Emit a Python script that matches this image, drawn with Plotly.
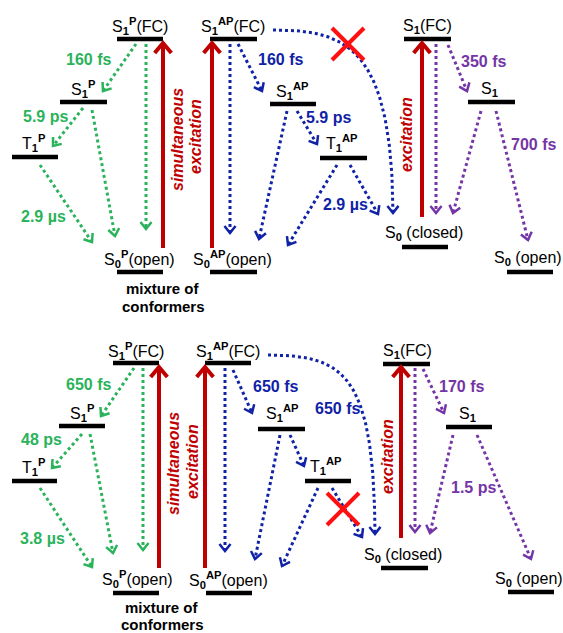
import numpy as np
import plotly.graph_objects as go

# ---------------- data ----------------
top_levels = ["S<sub><b>1</b></sub><sup><b>P</b></sup>(FC)", "S<sub><b>1</b></sub><sup><b>P</b></sup>",
              "T<sub><b>1</b></sub><sup><b>P</b></sup>", "S<sub><b>0</b></sub><sup><b>P</b></sup>(open)",
              "S<sub><b>1</b></sub><sup><b>AP</b></sup>(FC)", "S<sub><b>1</b></sub><sup><b>AP</b></sup>",
              "T<sub><b>1</b></sub><sup><b>AP</b></sup>", "S<sub><b>0</b></sub><sup><b>AP</b></sup>(open)",
              "S<sub><b>1</b></sub>(FC)", "S<sub><b>1</b></sub>", "S<sub><b>0</b></sub> (closed)",
              "S<sub><b>0</b></sub> (open)"]
bottom_levels = list(top_levels)
top_lifetimes = ["160 fs", "5.9 ps", "2.9 µs", "160 fs", "5.9 ps", "2.9 µs", "350 fs", "700 fs"]
bottom_lifetimes = ["650 fs", "48 ps", "3.8 µs", "650 fs", "650 fs", "170 fs", "1.5 ps"]
lifetime_groups = ["P", "P", "P", "AP", "AP", "AP", "C", "C"]
bottom_lifetime_groups = ["P", "P", "P", "AP", "AP", "C", "C"]
conformer_note = ["mixture of", "conformers"]
excitation_labels = ["simultaneous", "excitation", "excitation"]

# ---------------- layout geometry (pixel space) ----------------
GREEN, BLUE, PURPLE = "#2BB35C", "#1022A6", "#7435A6"
DARKRED, RED = "#C00000", "#FF1010"
group_color = {"P": GREEN, "AP": BLUE, "C": PURPLE}
FONT = "Liberation Sans, Arial, sans-serif"

panels = [
    dict(
        bars=[(117, 163, 39), (60, 107, 102), (12, 58, 157), (117, 163, 272),
              (210, 257, 39), (270, 316, 104), (320, 367, 158), (210, 257, 272),
              (404, 451, 39), (468, 515, 102), (402, 448, 247), (507, 553, 272)],
        level_pos=[(140, 26), (83, 89), (34, 143), (139, 259), (233, 26), (292, 91),
                   (342, 143), (232, 259), (427, 26), (489, 89), (424, 233), (528, 258)],
        life_pos=[(88, 59), (45, 116), (43, 216), (280, 59), (328, 117), (345, 204),
                  (483, 61), (533, 144)],
        note_pos=[(163, 288), (163, 306)],
        exc_pos=[(177, 140), (195, 137), (406, 135)],
        arrows=[("P", 136, 44, 103, 91), ("P", 83, 108, 53, 146), ("P", 92, 110, 115, 236),
                ("P", 146, 44, 146, 229), ("P", 40, 165, 92, 242),
                ("AP", 230, 44, 230, 233), ("AP", 238, 44, 262, 91), ("AP", 287, 111, 259, 239),
                ("AP", 297, 111, 317, 144), ("AP", 337, 165, 288, 245), ("AP", 350, 165, 378, 214),
                ("C", 436, 44, 436, 213), ("C", 448, 45, 467, 91), ("C", 481, 111, 453, 213),
                ("C", 496, 111, 528, 240)],
        curve=[(273, 30), (345, 30), (392, 45), (393, 213)],
        red=[(163, 248, 43), (212, 248, 43), (422, 217, 43)],
        cross=(348, 44, 16),
    ),
    dict(
        bars=[(113, 159, 363), (59, 105, 426), (12, 57, 481), (113, 159, 593),
              (205, 251, 363), (258, 305, 429), (305, 351, 481), (206, 252, 593),
              (383, 430, 364), (446, 492, 427), (381, 428, 568), (508, 554, 592)],
        level_pos=[(136, 351), (82, 413), (34, 467), (137, 579), (228, 351), (282, 413),
                   (326, 466), (228, 580), (407, 351), (467, 414), (403, 555), (529, 579)],
        life_pos=[(88, 384), (41, 439), (42, 538), (275, 386), (337, 408), (461, 386), (473, 487)],
        note_pos=[(162, 607), (162, 624)],
        exc_pos=[(173, 464), (192, 462), (387, 457)],
        arrows=[("P", 134, 368, 101, 416), ("P", 82, 434, 52, 468), ("P", 90, 434, 113, 553),
                ("P", 143, 368, 143, 550), ("P", 40, 488, 92, 567),
                ("AP", 225, 368, 225, 551), ("AP", 233, 370, 252, 413), ("AP", 280, 435, 255, 559),
                ("AP", 290, 435, 304, 466), ("AP", 318, 488, 282, 566), ("AP", 332, 488, 362, 537),
                ("C", 415, 368, 415, 532), ("C", 423, 369, 444, 413), ("C", 453, 435, 430, 533),
                ("C", 477, 435, 531, 559)],
        curve=[(268, 355), (345, 355), (374, 375), (375, 534)],
        red=[(159, 568, 367), (205, 568, 367), (401, 538, 367)],
        cross=(343, 509, 16),
    ),
]

fig = go.Figure()


def add_line(xs, ys, color, width, dash="solid"):
    fig.add_trace(go.Scatter(x=list(xs), y=list(ys), mode="lines",
                             line=dict(color=color, width=width, dash=dash),
                             hoverinfo="skip", showlegend=False))


def chevron(tipx, tipy, dx, dy, length, ang, color, width):
    n = np.hypot(dx, dy)
    dx, dy = dx / n, dy / n
    pts = []
    for s in (1, -1):
        a = np.radians(ang) * s
        rx = dx * np.cos(a) - dy * np.sin(a)
        ry = dx * np.sin(a) + dy * np.cos(a)
        pts.append((tipx - length * rx, tipy - length * ry))
    add_line([pts[0][0], tipx, pts[1][0]], [pts[0][1], tipy, pts[1][1]], color, width)


def dotted_arrow(x0, y0, x1, y1, color):
    add_line([x0, x1], [y0, y1], color, 3, "dot")
    chevron(x1, y1, x1 - x0, y1 - y0, 9, 38, color, 2.5)


for pn, P in enumerate(panels):
    levels = top_levels if pn == 0 else bottom_levels
    lifetimes = top_lifetimes if pn == 0 else bottom_lifetimes
    groups = lifetime_groups if pn == 0 else bottom_lifetime_groups

    for (x0, x1, y) in P["bars"]:
        add_line([x0, x1], [y, y], "black", 4.5)

    for (g, x0, y0, x1, y1) in P["arrows"]:
        dotted_arrow(x0, y0, x1, y1, group_color[g])

    c = np.array(P["curve"], dtype=float)
    t = np.linspace(0, 1, 80)[:, None]
    bez = ((1 - t) ** 3) * c[0] + 3 * ((1 - t) ** 2) * t * c[1] + 3 * (1 - t) * t ** 2 * c[2] + t ** 3 * c[3]
    add_line(bez[:, 0], bez[:, 1], BLUE, 3, "dot")
    chevron(c[3][0], c[3][1], c[3][0] - c[2][0], c[3][1] - c[2][1], 9, 38, BLUE, 2.5)

    for (x, y0, y1) in P["red"]:
        add_line([x, x], [y0, y1 + 2], DARKRED, 4)
        chevron(x, y1, 0, -1, 13, 40, DARKRED, 4)

    cx, cy, h = P["cross"]
    add_line([cx - h, cx + h], [cy - h, cy + h], RED, 4)
    add_line([cx - h, cx + h], [cy + h, cy - h], RED, 4)

    for txt, (x, y) in zip(levels, P["level_pos"]):
        fig.add_annotation(x=x, y=y, text=txt, showarrow=False,
                           font=dict(family=FONT, size=16, color="black"))
    for txt, g, (x, y) in zip(lifetimes, groups, P["life_pos"]):
        fig.add_annotation(x=x, y=y, text="<b>%s</b>" % txt, showarrow=False,
                           font=dict(family=FONT, size=16, color=group_color[g]))
    for txt, (x, y) in zip(conformer_note, P["note_pos"]):
        fig.add_annotation(x=x, y=y, text="<b>%s</b>" % txt, showarrow=False,
                           font=dict(family=FONT, size=15, color="black"))
    for txt, (x, y) in zip(excitation_labels, P["exc_pos"]):
        fig.add_annotation(x=x, y=y, text="<b><i>%s</i></b>" % txt, showarrow=False, textangle=-90,
                           font=dict(family=FONT, size=16, color=DARKRED))

W, H = 563, 633
fig.update_layout(
    width=W, height=H, margin=dict(l=0, r=0, t=0, b=0),
    paper_bgcolor="white", plot_bgcolor="white",
    xaxis=dict(range=[0, W], visible=False, fixedrange=True),
    yaxis=dict(range=[H, 0], visible=False, fixedrange=True),
)
fig.write_html("out.html", config={"displayModeBar": False},
               post_script="document.body.style.margin='0';document.body.style.overflow='hidden';")
